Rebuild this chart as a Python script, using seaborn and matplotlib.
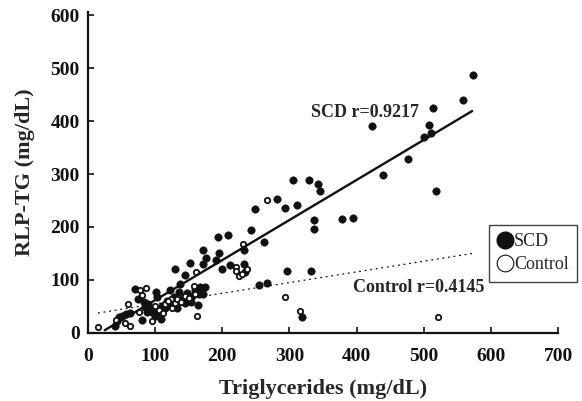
import numpy as np
import pandas as pd
import matplotlib
matplotlib.use("Agg")
import matplotlib.pyplot as plt
import seaborn as sns
from matplotlib.lines import Line2D

# ---- data ----
scd_tg = [574, 559, 514, 508, 511, 500, 423, 477, 439, 518, 306, 329, 342, 345, 281, 294,
          311, 336, 337, 379, 394, 249, 243, 262, 209, 194, 195, 190, 172, 176, 171, 232,
          200, 212, 232, 234, 254, 266, 297, 332, 319, 129, 152, 144, 122, 137, 135, 148,
          153, 164, 167, 175, 171, 165, 70, 74, 83, 85, 101, 103, 93, 100, 109, 81, 62, 51,
          47, 40, 44, 115, 123, 140, 132, 144, 128, 90, 96, 110, 118, 155, 160, 88, 56, 105]
scd_rlp = [487, 440, 424, 393, 378, 369, 390, 329, 299, 268, 289, 289, 281, 268, 253, 236,
           241, 213, 196, 215, 216, 233, 195, 171, 185, 181, 151, 137, 156, 142, 130, 156,
           120, 128, 130, 115, 90, 95, 116, 117, 29, 120, 132, 109, 80, 92, 78, 75,
           59, 52, 86, 86, 74, 74, 82, 64, 59, 49, 77, 67, 46, 31, 27, 25, 37, 31,
           29, 12, 22, 46, 55, 64, 46, 56, 68, 55, 40, 50, 60, 70, 80, 40, 35, 40]

ctl_tg = [15, 42, 59, 62, 55, 76, 81, 87, 78, 95, 106, 112, 115, 123, 129, 125, 132, 145,
          161, 158, 159, 163, 225, 221, 221, 230, 237, 231, 266, 294, 316, 521, 100, 120, 138, 150]
ctl_rlp = [11, 24, 54, 13, 18, 39, 72, 84, 80, 22, 44, 37, 55, 64, 56, 46, 64, 70,
           114, 89, 74, 32, 107, 125, 117, 112, 120, 167, 250, 67, 42, 30, 50, 60, 58, 65]

# regression fits (slope, intercept, x-range) as shown
scd_fit = {"slope": 0.757, "intercept": -14.0, "x": [25, 572]}
ctl_fit = {"slope": 0.2018, "intercept": 34.4, "x": [15, 572]}

x_ticks = [0, 100, 200, 300, 400, 500, 600, 700]
y_ticks = [0, 100, 200, 300, 400, 500, 600]

scd_label = "SCD r=0.9217"
ctl_label = "Control r=0.4145"

# ---- plotting ----
sns.set_theme(style="white")
plt.rcParams["font.family"] = ["Liberation Serif", "DejaVu Serif"]

fig = plt.figure(figsize=(5.82, 4.01), dpi=100)
ax = fig.add_axes([0.151, 0.170, 0.808, 0.800])

scd_df = pd.DataFrame({"tg": scd_tg, "rlp": scd_rlp})
ctl_df = pd.DataFrame({"tg": ctl_tg, "rlp": ctl_rlp})

sns.scatterplot(data=scd_df, x="tg", y="rlp", ax=ax, color="#111111", s=28,
                edgecolor="#111111", linewidth=0.5, zorder=3)
sns.scatterplot(data=ctl_df, x="tg", y="rlp", ax=ax, color="white", s=15,
                edgecolor="#111111", linewidth=1.3, zorder=4)

sx = np.array(scd_fit["x"], dtype=float)
sns.lineplot(x=sx, y=scd_fit["slope"] * sx + scd_fit["intercept"], ax=ax,
             color="#111111", linewidth=1.7, zorder=5)
cx = np.array(ctl_fit["x"], dtype=float)
sns.lineplot(x=cx, y=ctl_fit["slope"] * cx + ctl_fit["intercept"], ax=ax,
             color="#111111", linewidth=0.9, linestyle=(0, (1.5, 3)), zorder=2)

ax.text(412, 417, scd_label, ha="center", va="center", fontsize=13, fontweight="bold")
ax.text(493, 86, ctl_label, ha="center", va="center", fontsize=13, fontweight="bold")

ax.set_xlim(0, 700)
ax.set_ylim(5, 606)
ax.set_xticks(x_ticks)
ax.set_yticks(y_ticks)
ax.set_xticklabels([str(t) for t in x_ticks], fontsize=14, fontweight="bold")
ax.set_yticklabels([str(t) for t in y_ticks], fontsize=14, fontweight="bold")
ax.tick_params(axis="both", direction="in", length=4, width=1.2, colors="#111111")
ax.tick_params(axis="y", left=True, pad=6)
ax.tick_params(axis="x", bottom=True, pad=11)

for side in ["top", "right"]:
    ax.spines[side].set_visible(False)
for side in ["left", "bottom"]:
    ax.spines[side].set_color("#111111")
    ax.spines[side].set_linewidth(1.6)

ax.set_xlabel("Triglycerides (mg/dL)", fontsize=16, fontweight="bold", labelpad=10)
ax.set_ylabel("RLP-TG (mg/dL)", fontsize=16, fontweight="bold", labelpad=11)

handles = [
    Line2D([], [], marker="o", linestyle="none", markersize=12, markerfacecolor="#111111",
           markeredgecolor="#111111", label="SCD"),
    Line2D([], [], marker="o", linestyle="none", markersize=12, markerfacecolor="white",
           markeredgecolor="#111111", markeredgewidth=0.8, label="Control"),
]
leg = ax.legend(handles=handles, loc="upper left", bbox_to_anchor=(0.852, 0.336),
                frameon=True, fancybox=False, fontsize=13, handletextpad=0.05,
                handlelength=0.9, borderpad=0.45, labelspacing=0.35, borderaxespad=0)
leg.get_frame().set_edgecolor("#111111")
leg.get_frame().set_linewidth(1.0)
leg.set_zorder(10)

fig.savefig("out.png", dpi=100, facecolor="white")
